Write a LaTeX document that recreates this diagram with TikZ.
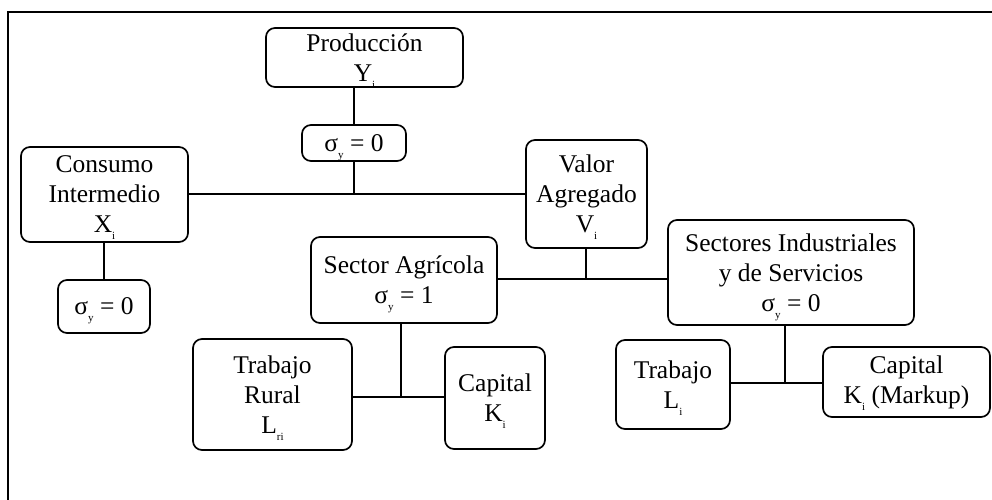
\documentclass[tikz,border=0pt]{standalone}
\usepackage{fontspec}
\setmainfont{Liberation Serif}
\newcommand{\mysb}[1]{\raisebox{-7pt}[0pt][0pt]{\fontsize{11}{11}\selectfont #1}}
\begin{document}
\begin{tikzpicture}[x=1pt,y=-1pt,
  box/.style={draw, line width=1.7pt, rounded corners=9pt, inner sep=0pt, align=center,
    font=\fontsize{25.5}{30}\selectfont},
  conn/.style={line width=1.7pt}]
\useasboundingbox (0,0) rectangle (992,500);
\draw[conn] (8,500) -- (8,12) -- (992,12);
\node[box, minimum width=197pt, minimum height=59pt] (prod) at (364.5,57.5) {Producción\\Y\mysb{i}};
\node[box, minimum width=104pt, minimum height=36pt] (s1) at (354,143) {σ\mysb{y} = 0};
\node[box, minimum width=167pt, minimum height=95pt] (cons) at (104.5,194.5) {Consumo\\Intermedio\\X\mysb{i}};
\node[box, minimum width=121pt, minimum height=108pt] (valor) at (586.5,194) {Valor\\Agregado\\V\mysb{i}};
\node[box, minimum width=186pt, minimum height=86pt] (agri) at (404,280) {Sector Agrícola\\σ\mysb{y} = 1};
\node[box, minimum width=246pt, minimum height=105pt] (sect) at (791,272.5) {Sectores Industriales\\y de Servicios\\σ\mysb{y} = 0};
\node[box, minimum width=92pt, minimum height=53pt] (s2) at (104,306.5) {σ\mysb{y} = 0};
\node[box, minimum width=159pt, minimum height=111pt] (trur) at (272.5,394.5) {Trabajo\\Rural\\L\mysb{ri}};
\node[box, minimum width=100pt, minimum height=102pt] (capa) at (495,398) {Capital\\K\mysb{i}};
\node[box, minimum width=114pt, minimum height=89pt] (trab) at (673,384.5) {Trabajo\\L\mysb{i}};
\node[box, minimum width=167pt, minimum height=70pt] (capm) at (906.5,382) {Capital\\K\mysb{i} (Markup)};
\coordinate (j1) at (354,194);
\coordinate (j2) at (586,279);
\coordinate (j3) at (401,397);
\coordinate (j4) at (785,383);
\draw[conn] (prod.south -| s1.north) -- (s1.north);
\draw[conn] (s1.south) -- (j1);
\draw[conn] (cons.east |- j1) -- (valor.west |- j1);
\draw[conn] (cons.south -| s2.north) -- (s2.north);
\draw[conn] (valor.south -| j2) -- (j2);
\draw[conn] (agri.east |- j2) -- (sect.west |- j2);
\draw[conn] (agri.south -| j3) -- (j3);
\draw[conn] (trur.east |- j3) -- (capa.west |- j3);
\draw[conn] (sect.south -| j4) -- (j4);
\draw[conn] (trab.east |- j4) -- (capm.west |- j4);
\end{tikzpicture}
\end{document}
